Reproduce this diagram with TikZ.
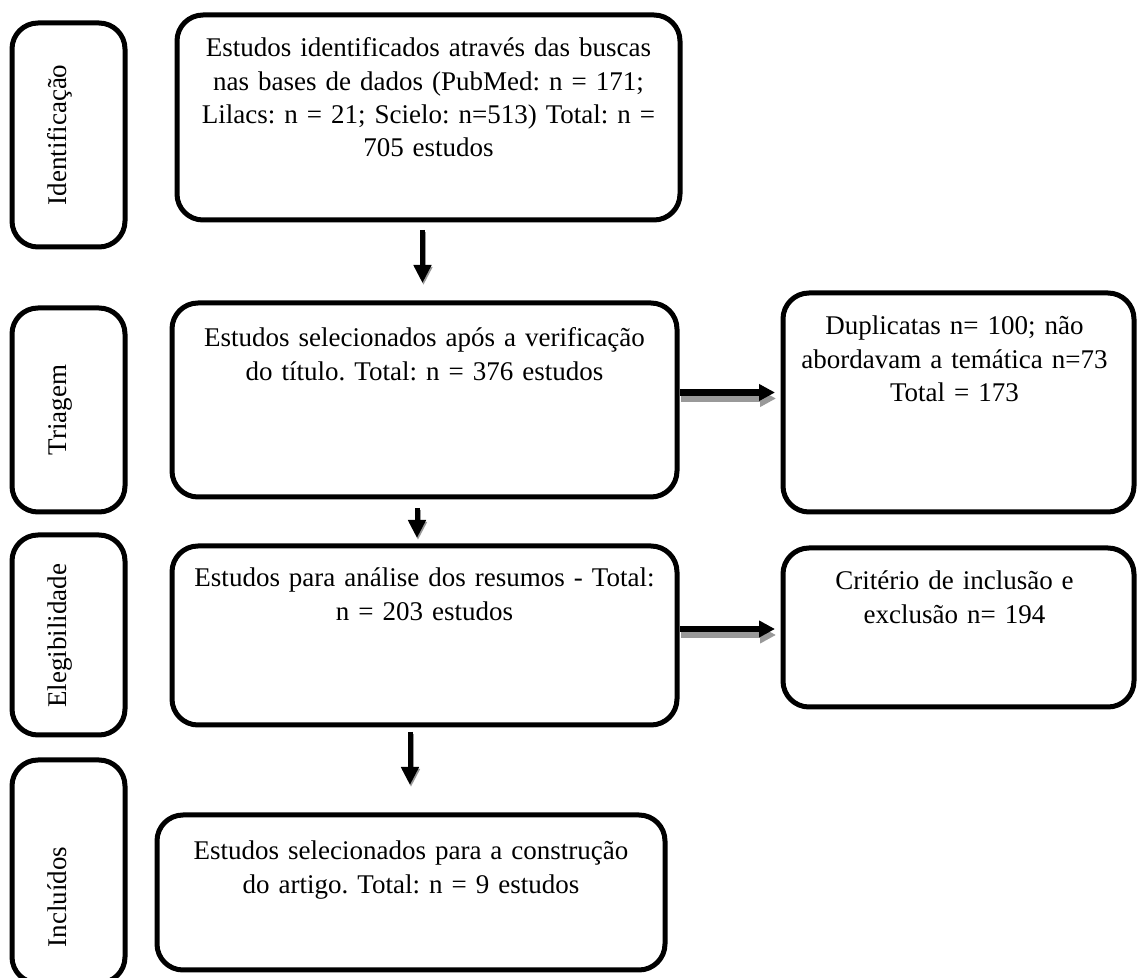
\documentclass[tikz,border=0pt]{standalone}
\usepackage{fontspec}
\setmainfont{Liberation Serif}
\frenchspacing
\usetikzlibrary{arrows.meta}
\tikzset{
  box/.style={draw, line width=2.5pt, rounded corners=13pt, outer sep=0pt, inner sep=0pt},
  txt/.style={anchor=base, align=center, inner sep=0pt, text width=280pt,
    font=\fontsize{13.5}{16.6}\selectfont},
  side/.style={rotate=90, anchor=base, inner sep=0pt, font=\fontsize{13.5}{16.6}\selectfont},
  varr/.style={line width=2.5pt, -{Triangle[length=9pt,width=8.5pt]}},
  harr/.style={line width=3.25pt, -{Triangle[length=8pt,width=8pt]}},
  vshadow/.style={draw=black!40, transform canvas={xshift=0.5pt,yshift=-1pt}},
  hshadow/.style={draw=black!40, transform canvas={xshift=0.5pt,yshift=-3pt}},
}
\begin{document}
\begin{tikzpicture}[x=0.5pt,y=-0.5pt]
\useasboundingbox (0,0) rectangle (1137,978);
% side boxes
\node[box, minimum width=56.5pt, minimum height=112pt] (s1) at (68.5,135) {};
\node[box, minimum width=56.5pt, minimum height=102pt] (s2) at (68.5,410) {};
\node[box, minimum width=56.5pt, minimum height=100pt] (s3) at (68.5,635) {};
\node[box, minimum width=56.5pt, minimum height=111.5pt] (s4) at (68.5,871.5) {};
\node[side] (l1) at (66,135) {Identificação};
\node[side] (l2) at (66,410) {Triagem};
\node[side] (l3) at (66,636) {Elegibilidade};
\node[side] (l4) at (66,897) {Incluídos};
% main boxes
\node[box, minimum width=251.5pt, minimum height=102.5pt] (b1) at (428.5,117.5) {};
\node[box, minimum width=252.5pt, minimum height=97pt] (b2) at (424.5,400) {};
\node[box, minimum width=252.5pt, minimum height=89.5pt] (b3) at (424.5,635.5) {};
\node[box, minimum width=254pt, minimum height=77.5pt] (b4) at (411,892.5) {};
\node[box, minimum width=175.5pt, minimum height=109.5pt] (d) at (958.5,402.5) {};
\node[box, minimum width=175.5pt, minimum height=79.5pt] (c) at (958.5,627.5) {};
% texts
\node[txt] (t1) at ([yshift=-21pt]b1.north) {Estudos identificados através das buscas\\nas bases de dados (PubMed: n = 171;\\Lilacs: n = 21; Scielo: n=513) Total: n =\\705 estudos};
\node[txt] (t2) at ([yshift=-22pt]b2.north) {Estudos selecionados após a verificação\\do título. Total: n = 376 estudos};
\node[txt] (t3) at ([yshift=-20.5pt]b3.north) {Estudos para análise dos resumos - Total:\\n = 203 estudos};
\node[txt] (t4) at ([yshift=-22.5pt]b4.north) {Estudos selecionados para a construção\\do artigo. Total: n = 9 estudos};
\node[txt, text width=175pt] (td) at ([xshift=-2pt,yshift=-21pt]d.north) {Duplicatas n= 100; não\\abordavam a temática n=73\\Total = 173};
\node[txt, text width=175pt] (tc) at ([xshift=-2pt,yshift=-21pt]c.north) {Critério de inclusão e\\exclusão n= 194};
% vertical arrows
\draw[varr, vshadow, shorten <=5pt, shorten >=10pt] ([xshift=-3pt]b1.south) -- ([xshift=-3pt]b1.south |- b2.north);
\draw[varr, shorten <=5pt, shorten >=10pt] ([xshift=-3pt]b1.south) -- ([xshift=-3pt]b1.south |- b2.north);
\draw[varr, vshadow, shorten <=5.5pt, shorten >=4pt] ([xshift=-3.75pt]b2.south) -- ([xshift=-3.75pt]b2.south |- b3.north);
\draw[varr, shorten <=5.5pt, shorten >=4pt] ([xshift=-3.75pt]b2.south) -- ([xshift=-3.75pt]b2.south |- b3.north);
\draw[varr, vshadow, shorten <=3.5pt, shorten >=15pt] ([xshift=-7.25pt]b3.south) -- ([xshift=-7.25pt]b3.south |- b4.north);
\draw[varr, shorten <=3.5pt, shorten >=15pt] ([xshift=-7.25pt]b3.south) -- ([xshift=-7.25pt]b3.south |- b4.north);
% horizontal arrows
\draw[harr, hshadow, shorten <=1.5pt, shorten >=4pt] ([yshift=3.75pt]b2.east) -- ([yshift=3.75pt]b2.east -| d.west);
\draw[harr, shorten <=1.5pt, shorten >=4pt] ([yshift=3.75pt]b2.east) -- ([yshift=3.75pt]b2.east -| d.west);
\draw[harr, hshadow, shorten <=1.5pt, shorten >=4pt] ([yshift=3.25pt]b3.east) -- ([yshift=3.25pt]b3.east -| c.west);
\draw[harr, shorten <=1.5pt, shorten >=4pt] ([yshift=3.25pt]b3.east) -- ([yshift=3.25pt]b3.east -| c.west);
\end{tikzpicture}
\end{document}
